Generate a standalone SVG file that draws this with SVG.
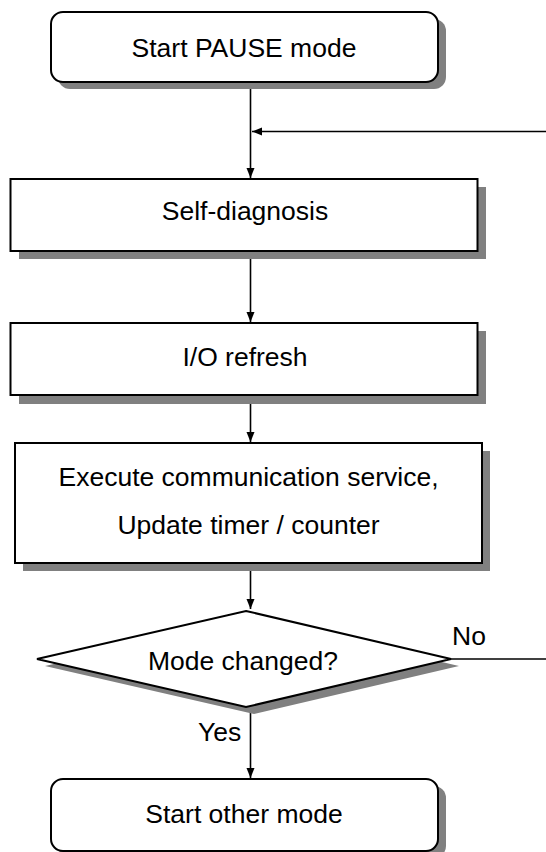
<svg xmlns="http://www.w3.org/2000/svg" width="546" height="852" viewBox="0 0 546 852">
  <style>
    .shape { fill: #ffffff; stroke: #000000; stroke-width: 2; }
    .shadow { fill: #808080; stroke: none; }
    .label { font-family: "Liberation Sans", Arial, sans-serif; font-size: 26.5px; fill: #000000; text-anchor: middle; }
    .edge-label { font-family: "Liberation Sans", Arial, sans-serif; font-size: 26.5px; fill: #000000; }
    .conn { stroke: #000000; stroke-width: 1.6; fill: none; }
  </style>
  <defs>
    <marker id="arrow" markerUnits="userSpaceOnUse" markerWidth="11" markerHeight="9" refX="10" refY="4" orient="auto">
      <path d="M0,0 L10,4 L0,8 z" fill="#000000"/>
    </marker>
  </defs>
  <rect width="546" height="852" fill="#ffffff"/>

  <g id="connectors">
    <line class="conn" x1="250.5" y1="82" x2="250.5" y2="178" marker-end="url(#arrow)"/>
    <line class="conn" x1="546" y1="131.5" x2="252" y2="131.5" marker-end="url(#arrow)"/>
    <line class="conn" x1="250.5" y1="251" x2="250.5" y2="322" marker-end="url(#arrow)"/>
    <line class="conn" x1="250.5" y1="395" x2="250.5" y2="442" marker-end="url(#arrow)"/>
    <line class="conn" x1="250.5" y1="563" x2="250.5" y2="609" marker-end="url(#arrow)"/>
    <line class="conn" x1="250.5" y1="706" x2="250.5" y2="778" marker-end="url(#arrow)"/>
    <line class="conn" x1="451" y1="659" x2="546" y2="659"/>
    <text class="edge-label" x="452" y="645">No</text>
    <text class="edge-label" x="198" y="741">Yes</text>
  </g>

  <g id="start-pause">
    <rect class="shadow" x="58" y="19" width="388" height="70" rx="12" ry="12"/>
    <rect class="shape" x="51" y="12" width="387" height="70" rx="12" ry="12"/>
    <text class="label" x="244" y="57">Start PAUSE mode</text>
  </g>

  <g id="self-diagnosis">
    <rect class="shadow" x="19" y="187" width="467" height="72"/>
    <rect class="shape" x="10.5" y="179" width="467" height="72"/>
    <text class="label" x="245" y="220">Self-diagnosis</text>
  </g>

  <g id="io-refresh">
    <rect class="shadow" x="19" y="331" width="467" height="73"/>
    <rect class="shape" x="10.5" y="323" width="467" height="72"/>
    <text class="label" x="245" y="366">I/O refresh</text>
  </g>

  <g id="execute">
    <rect class="shadow" x="23" y="451" width="467" height="120"/>
    <rect class="shape" x="15" y="443" width="467" height="120"/>
    <text class="label" x="248.5" y="486">Execute communication service,</text>
    <text class="label" x="248.5" y="534">Update timer / counter</text>
  </g>

  <g id="mode-changed">
    <polygon class="shadow" points="254,618 459,666 254,714 45,666"/>
    <polygon class="shape" points="246,611 451,659 246,707 37,659"/>
    <text class="label" x="243" y="670">Mode changed?</text>
  </g>

  <g id="start-other">
    <rect class="shadow" x="58" y="786" width="388" height="72" rx="12" ry="12"/>
    <rect class="shape" x="51" y="779" width="387" height="72" rx="12" ry="12"/>
    <text class="label" x="244" y="823">Start other mode</text>
  </g>
</svg>
